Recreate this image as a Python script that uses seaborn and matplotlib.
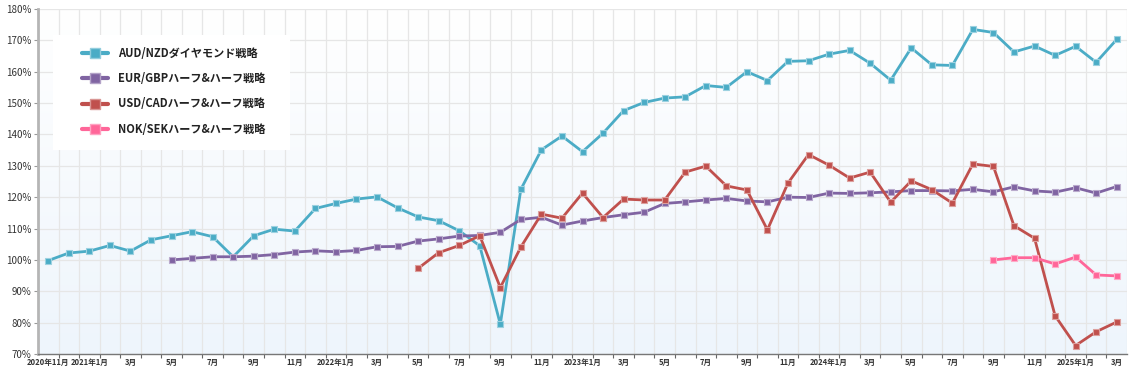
import numpy as np
import pandas as pd
import seaborn as sns
import matplotlib.pyplot as plt
from matplotlib.lines import Line2D
from matplotlib.patches import Rectangle
from matplotlib.colors import to_rgb

# 月次カテゴリ (2020年11月 ~ 2025年3月)
months = pd.date_range("2020-11-01", "2025-03-01", freq="MS")

# 各戦略の累積推移 (%)
aud_nzd = [99.8, 102.2, 102.8, 104.6, 102.8, 106.4, 107.7, 109.0, 107.4, 101.0,
           107.7, 109.8, 109.2, 116.4, 118.0, 119.4, 120.1, 116.6, 113.7, 112.5,
           109.3, 104.5, 79.5, 122.5, 135.1, 139.5, 134.5, 140.4, 147.6, 150.2,
           151.6, 152.0, 155.6, 155.0, 160.0, 157.2, 163.3, 163.5, 165.6, 166.8,
           162.7, 157.3, 167.6, 162.2, 162.0, 173.5, 172.5, 166.3, 168.2, 165.2,
           168.1, 163.0, 170.3]
eur_gbp = [100.0, 100.5, 101.0, 101.0, 101.2, 101.7, 102.5, 102.9, 102.6, 103.0,
           104.2, 104.3, 106.0, 106.7, 107.6, 107.8, 108.8, 112.9, 113.6, 111.1,
           112.4, 113.5, 114.4, 115.2, 118.0, 118.5, 119.1, 119.6, 118.8, 118.5,
           120.0, 119.9, 121.3, 121.2, 121.4, 121.7, 122.1, 122.1, 122.0, 122.5,
           121.7, 123.3, 122.0, 121.6, 123.0, 121.3, 123.4]
usd_cad = [97.3, 102.3, 104.6, 107.7, 91.2, 104.1, 114.6, 113.3, 121.3, 113.5,
           119.4, 119.1, 119.1, 128.0, 129.9, 123.6, 122.3, 109.6, 124.5, 133.6,
           130.2, 126.1, 128.0, 118.4, 125.2, 122.4, 118.1, 130.6, 129.8, 110.9,
           106.9, 82.2, 72.7, 77.1, 80.2]
nok_sek = [100.0, 100.7, 100.7, 98.7, 100.9, 95.2, 94.9]

series_names = ["AUD/NZDダイヤモンド戦略", "EUR/GBPハーフ&ハーフ戦略",
                "USD/CADハーフ&ハーフ戦略", "NOK/SEKハーフ&ハーフ戦略"]
series_values = [aud_nzd, eur_gbp, usd_cad, nok_sek]
colors = ["#4BACC6", "#8064A2", "#C0504D", "#FF6699"]

# long形式に変換 (後から始まる系列は末尾に揃える)
rows = []
for name, vals in zip(series_names, series_values):
    start = len(months) - len(vals)
    for k, v in enumerate(vals):
        rows.append({"idx": start + k, "value": v, "strategy": name})
df = pd.DataFrame(rows)

tick_labels = []
for i, m in enumerate(months):
    if i == 0 or m.month == 1:
        tick_labels.append(f"{m.year}年{m.month}月")
    else:
        tick_labels.append(f"{m.month}月")

sns.set_theme(style="white")
plt.rcParams["font.family"] = ["Noto Sans CJK JP", "DejaVu Sans"]

W, H = 1134, 388
fig = plt.figure(figsize=(W / 100, H / 100), dpi=100)
ax = fig.add_axes([38 / W, (H - 354) / H, (1127 - 38) / W, (354 - 9) / H])

# 背景グラデーション (上: 白 → 下: 薄い青)
top = np.array(to_rgb("#ffffff"))
bot = np.array(to_rgb("#eef5fc"))
t = np.linspace(0, 1, 256)[:, None]
grad = (top * (1 - t) + bot * t)[:, None, :]
ax.imshow(grad, extent=[0, 1, 0, 1], transform=ax.transAxes, aspect="auto", zorder=0)

for name, col in zip(series_names, colors):
    sub = df[df["strategy"] == name]
    light = tuple(0.55 * np.array(to_rgb(col)) + 0.45)
    sns.lineplot(data=sub, x="idx", y="value", ax=ax, color=col, lw=2,
                 marker="s", markersize=4.5, markeredgecolor=light,
                 markeredgewidth=0.8, legend=False, zorder=3)

ax.set_xlim(-0.5, len(months) - 0.5)
ax.set_ylim(70, 180)
ax.set_xlabel("")
ax.set_ylabel("")

ax.set_xticks(range(0, len(months), 2))
ax.set_xticklabels(tick_labels[::2], fontsize=5.5, fontweight="bold", color="#333333")
ax.set_xticks(np.arange(0.5, len(months) - 0.5, 1), minor=True)
ax.tick_params(axis="x", which="major", length=0, pad=3)
ax.tick_params(axis="x", which="minor", length=3, width=0.8, color="#666666", bottom=True)

ax.set_yticks(range(70, 181, 10))
ax.set_yticklabels([f"{v}%" for v in range(70, 181, 10)], fontsize=7, color="#333333")
ax.tick_params(axis="y", length=3, width=0.8, color="#999999", left=True, pad=2)

ax.grid(True, axis="y", color="#e6e6e6", lw=0.9)
ax.grid(True, axis="x", which="minor", color="#e6e6e6", lw=0.9)
ax.set_axisbelow(True)

for s in ["top", "right"]:
    ax.spines[s].set_visible(False)
ax.spines["left"].set_color("#b5b5b5")
ax.spines["left"].set_linewidth(2)
ax.spines["bottom"].set_color("#777777")
ax.spines["bottom"].set_linewidth(1)
ax.axvline(len(months) - 0.5, color="#e6e6e6", lw=0.9, zorder=0.5)

# 凡例 (白い箱、枠なし)
box = Rectangle((53 / W, (H - 150) / H), (290 - 53) / W, (150 - 35) / H,
                transform=fig.transFigure, facecolor="white", edgecolor="none",
                zorder=4.5, clip_on=False)
ax.add_patch(box)
handles = [Line2D([], [], color=c, lw=3, marker="s", markersize=7,
                  markeredgecolor=tuple(0.6 * np.array(to_rgb(c)) + 0.4))
           for c in colors]
leg = ax.legend(handles, series_names, loc="upper left", frameon=False,
                bbox_to_anchor=(76 / W, (H - 41) / H), bbox_transform=fig.transFigure,
                borderpad=0, handlelength=2.4, handletextpad=0.9, labelspacing=1.12,
                prop={"size": 8, "weight": "bold"})
for txt in leg.get_texts():
    txt.set_color("#222222")
leg.set_zorder(5)

fig.savefig("out.png", dpi=100)
